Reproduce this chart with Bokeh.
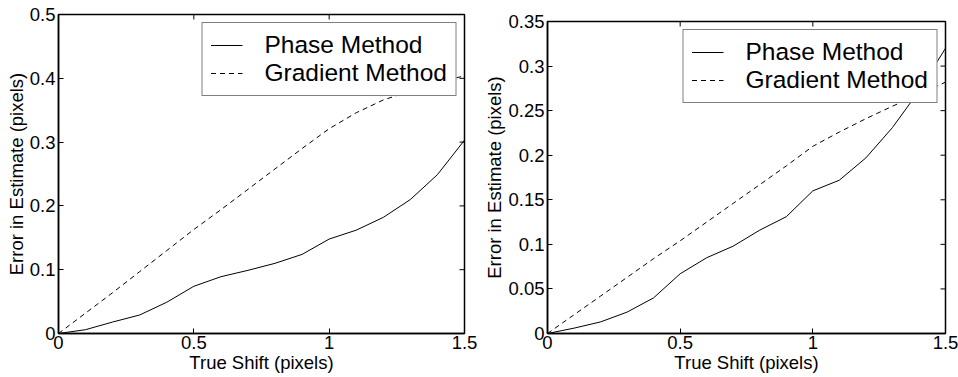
import math
from bokeh.plotting import figure
from bokeh.layouts import row, column
from bokeh.models import FixedTicker, Legend, LegendItem, Range1d, Spacer
from bokeh.embed import file_html
from bokeh.resources import INLINE

# ---- data ----
shift = [0.0, 0.1, 0.2, 0.3, 0.4, 0.5, 0.6, 0.7, 0.8, 0.9, 1.0, 1.1, 1.2, 1.3, 1.4, 1.5]

left_phase = [0.0, 0.006, 0.018, 0.029, 0.049, 0.074, 0.089, 0.099, 0.110, 0.124,
              0.148, 0.162, 0.182, 0.210, 0.249, 0.303]
left_gradient = [0.0, 0.032, 0.064, 0.097, 0.130, 0.163, 0.194, 0.226, 0.258, 0.290,
                 0.321, 0.346, 0.366, 0.380, 0.393, 0.404]

right_phase = [0.0, 0.006, 0.013, 0.024, 0.040, 0.067, 0.085, 0.098, 0.116, 0.131,
               0.160, 0.172, 0.197, 0.231, 0.272, 0.320]
right_gradient = [0.0, 0.021, 0.042, 0.063, 0.084, 0.104, 0.125, 0.146, 0.167, 0.188,
                  0.210, 0.226, 0.241, 0.255, 0.268, 0.282]

x_ticks = [0, 0.5, 1, 1.5]
x_tick_labels = ["0", "0.5", "1", "1.5"]
left_y_ticks = [0, 0.1, 0.2, 0.3, 0.4, 0.5]
left_y_tick_labels = ["0", "0.1", "0.2", "0.3", "0.4", "0.5"]
right_y_ticks = [0, 0.05, 0.1, 0.15, 0.2, 0.25, 0.3, 0.35]
right_y_tick_labels = ["0", "0.05", "0.1", "0.15", "0.2", "0.25", "0.3", "0.35"]

series_names = ["Phase Method", "Gradient Method"]
x_label = "True Shift (pixels)"
y_label = "Error in Estimate (pixels)"

FONT = "Liberation Sans"


def style_axis(ax, ticks, labels):
    ax.ticker = FixedTicker(ticks=ticks)
    ax.major_label_overrides = {t: l for t, l in zip(ticks, labels)}
    ax.minor_tick_line_color = None
    ax.major_tick_in = 5
    ax.major_tick_out = 0
    ax.major_tick_line_color = "black"
    ax.axis_line_color = "black"
    ax.axis_line_width = 1.5
    ax.major_label_text_font = FONT
    ax.major_label_text_color = "black"
    ax.major_label_text_font_size = "18.5px"
    ax.major_label_text_line_height = 1.0
    ax.major_label_standoff = 3
    ax.axis_label_text_font = FONT
    ax.axis_label_text_font_size = "18.5px"
    ax.axis_label_text_line_height = 1.0
    ax.axis_label_text_font_style = "normal"
    ax.axis_label_text_color = "black"


def make_plot(phase, grad, y_ticks, y_labels, y_max, height, border_left, border_right):
    p = figure(width=479, height=height, output_backend="svg", toolbar_location=None,
               x_range=Range1d(0, 1.5), y_range=Range1d(0, y_max),
               min_border_left=border_left, min_border_top=14,
               min_border_right=border_right, min_border_bottom=44)
    p.grid.visible = False
    p.outline_line_color = "black"
    p.outline_line_width = 1.5
    p.background_fill_color = "white"
    p.border_fill_color = "white"

    style_axis(p.xaxis[0], x_ticks, x_tick_labels)
    style_axis(p.yaxis[0], y_ticks, y_labels)
    p.xaxis[0].axis_label = x_label
    p.xaxis[0].axis_label_standoff = 0
    p.xaxis[0].major_label_standoff = 2
    p.yaxis[0].axis_label = y_label
    p.yaxis[0].axis_label_standoff = 0

    # inward tick marks on the top and right edges of the box
    p.ray(x=x_ticks, y=[y_max] * len(x_ticks), length=5, length_units="screen",
          angle=-math.pi / 2, line_color="black", line_width=1)
    p.ray(x=[1.5] * len(y_ticks), y=y_ticks, length=5, length_units="screen",
          angle=math.pi, line_color="black", line_width=1)

    r1 = p.line(shift, phase, line_color="black", line_width=1)
    r2 = p.line(shift, grad, line_color="black", line_width=1, line_dash="5 4")

    legend = Legend(items=[LegendItem(label=series_names[0], renderers=[r1]),
                           LegendItem(label=series_names[1], renderers=[r2])],
                    location="top_right")
    legend.margin = 8
    legend.padding = 8
    legend.spacing = 0
    legend.glyph_width = 32
    legend.glyph_height = 20
    legend.label_height = 20
    legend.label_standoff = 22
    legend.label_text_font = FONT
    legend.label_text_font_size = "24.5px"
    legend.label_text_color = "black"
    legend.border_line_color = "black"
    legend.border_line_width = 1.5
    legend.background_fill_alpha = 1
    p.add_layout(legend, "center")
    return p


p1 = make_plot(left_phase, left_gradient, left_y_ticks, left_y_tick_labels, 0.5, 377, 58, 15)
p2 = make_plot(right_phase, right_gradient, right_y_ticks, right_y_tick_labels, 0.35, 370, 68, 13)

layout = row(p1, column(Spacer(width=479, height=7), p2))
open("out.html", "w").write(file_html(layout, INLINE))
